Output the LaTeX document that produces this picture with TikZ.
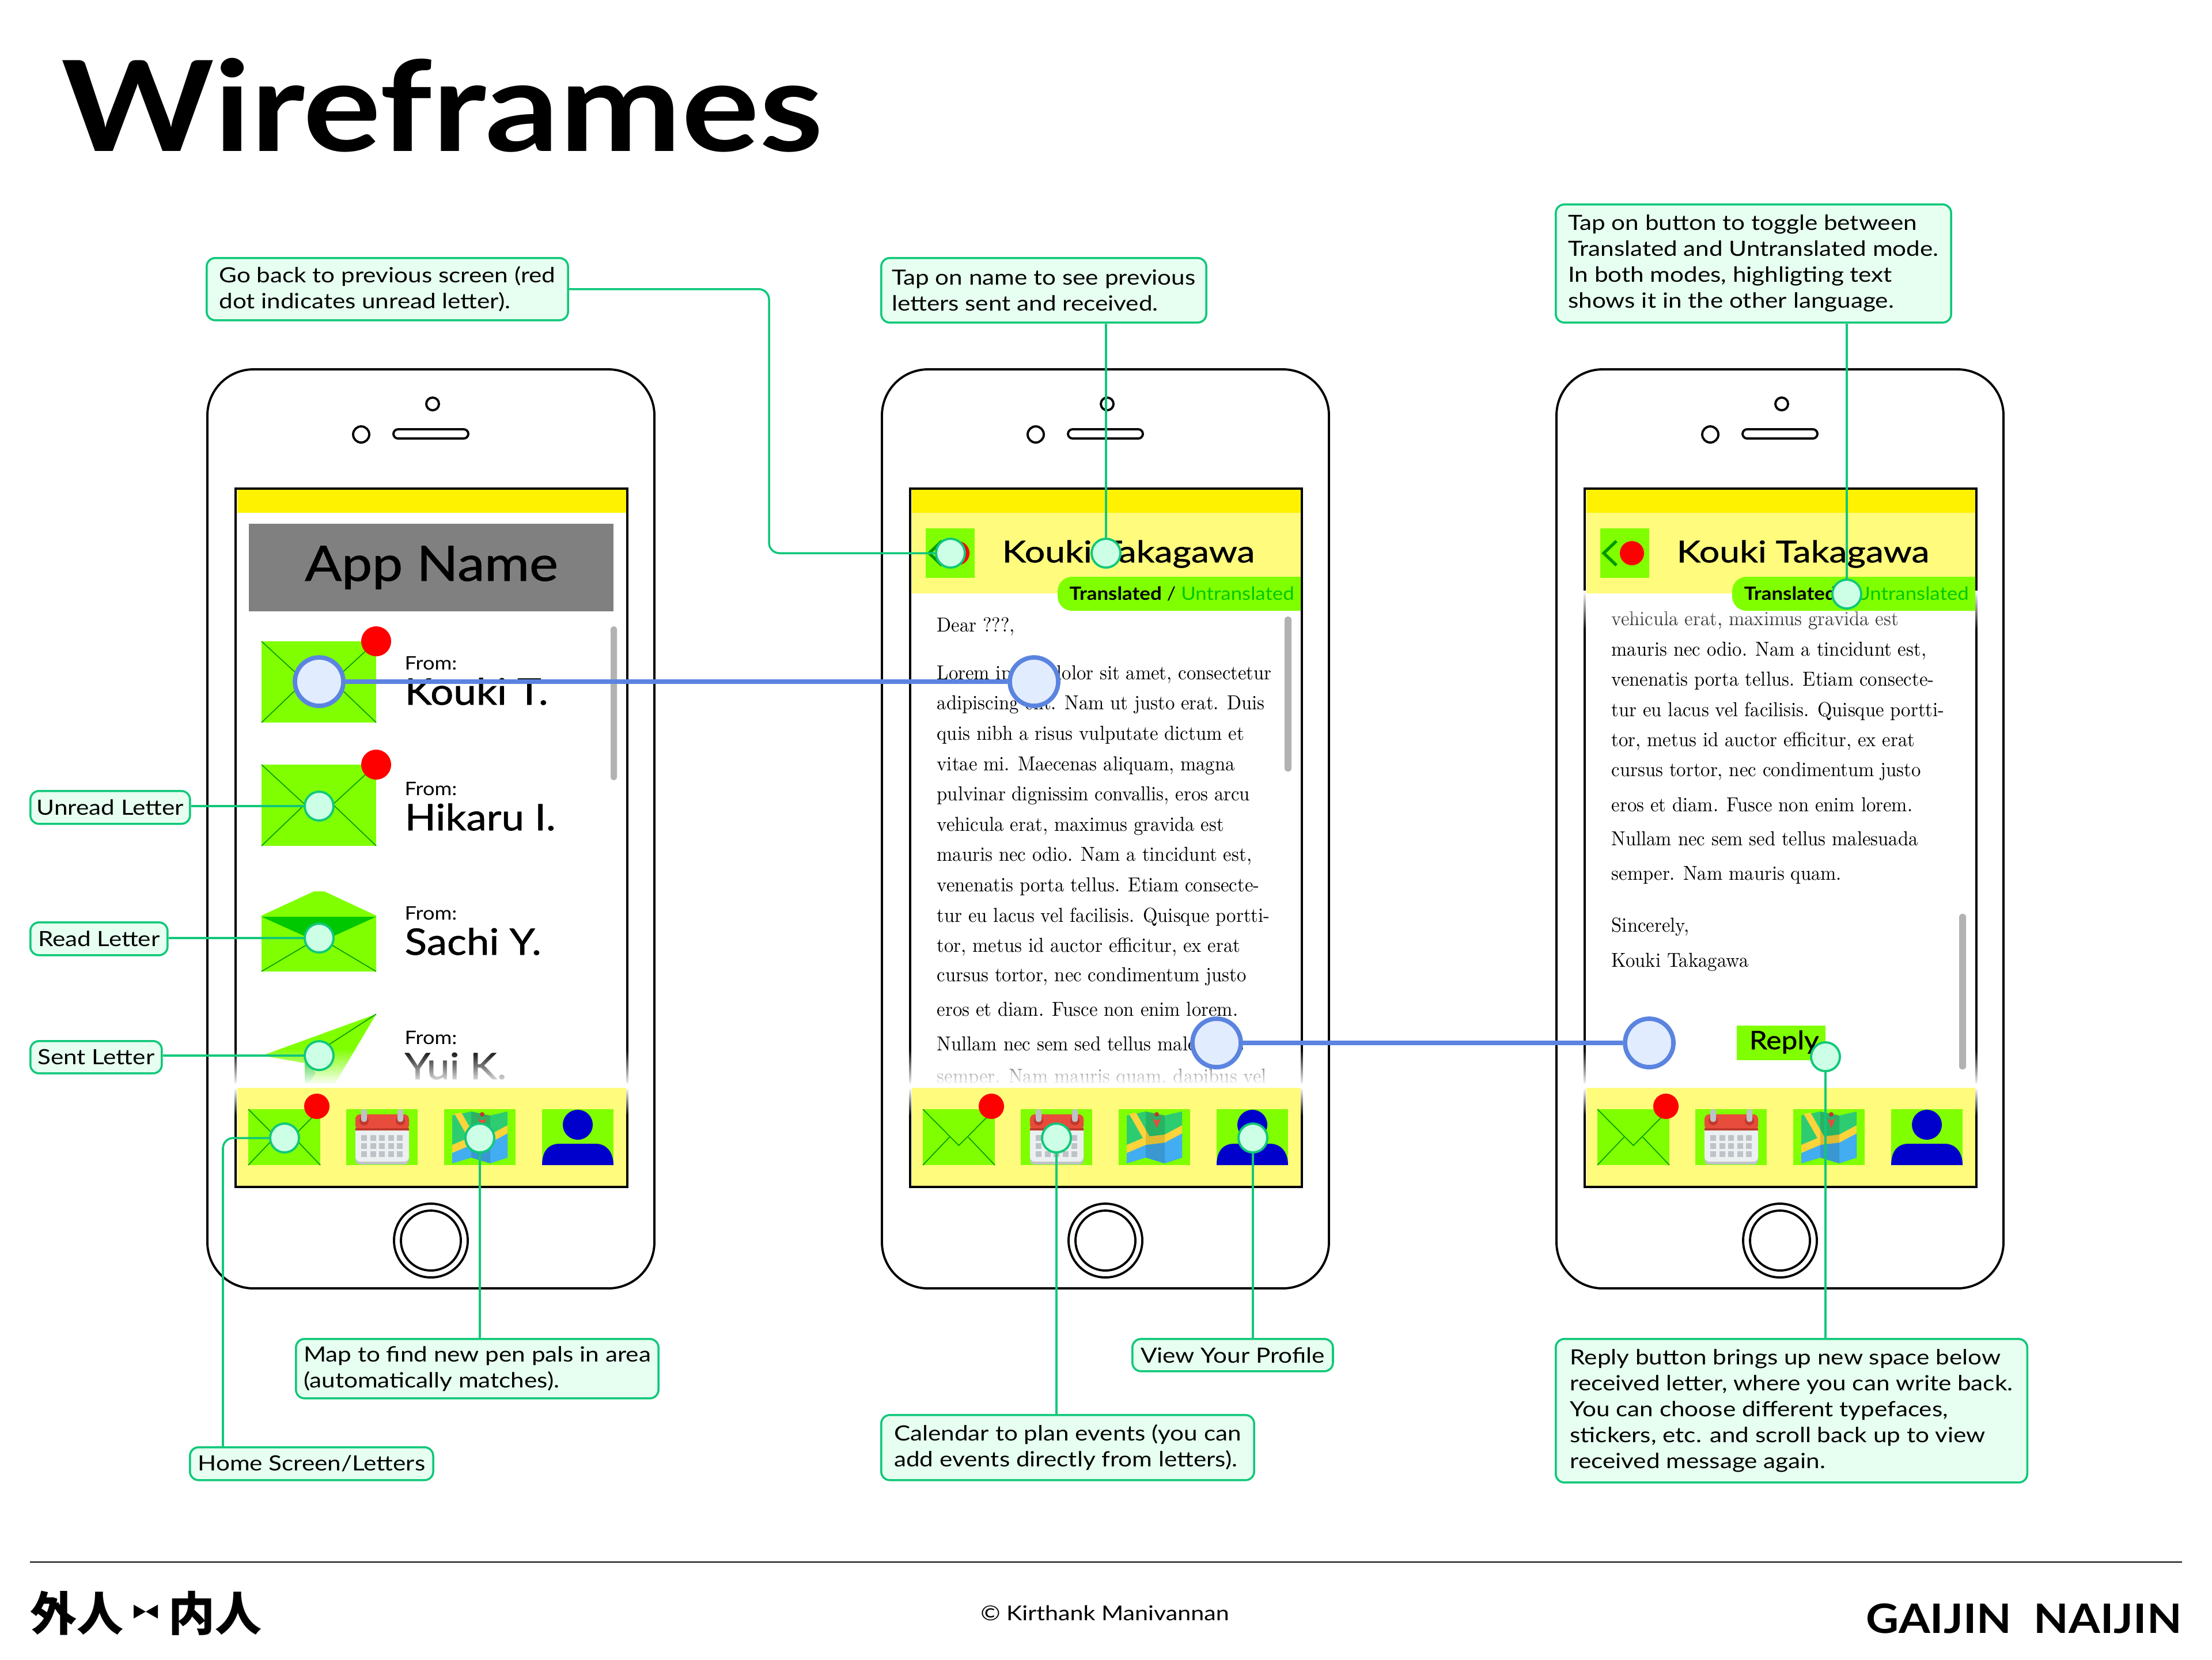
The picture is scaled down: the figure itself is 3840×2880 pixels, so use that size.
\documentclass[tikz,border=0pt]{standalone}
\usepackage{fontspec}
\usetikzlibrary{fadings}
\newfontfamily\wideface[FakeStretch=1.12]{Lato}
\newfontfamily\heavyface[FakeStretch=1.12,FakeBold=1]{Lato}
\newfontfamily\headface[FakeStretch=1.2,FakeBold=1]{Lato}
\newfontfamily\titleface[FakeStretch=1.16]{Lato}
\newfontfamily\noteface[FakeStretch=1.16]{Lato}
\newfontfamily\plainface[FakeStretch=1.1]{Lato}
\newfontfamily\letterface[FakeStretch=0.93]{Latin Modern Roman}
\newfontfamily\cjkface{Noto Sans CJK JP}
\definecolor{lettergreen}{HTML}{80FF00}
\definecolor{foldgreen}{HTML}{009900}
\definecolor{flapgreen}{HTML}{00C800}
\definecolor{statusyellow}{HTML}{FFF200}
\definecolor{barYellow}{HTML}{FFFB7D}
\definecolor{notered}{HTML}{FF0000}
\definecolor{notegreen}{HTML}{10C87A}
\definecolor{notefill}{HTML}{E6FFF0}
\definecolor{spotfill}{HTML}{CCFFE5}
\definecolor{linkblue}{HTML}{5B84E0}
\definecolor{linkfill}{HTML}{E2ECFF}
\definecolor{personblue}{HTML}{0000CC}
\definecolor{iconred}{HTML}{E74C3C}
\definecolor{icondark}{HTML}{C0392B}
\definecolor{icongrey}{HTML}{BDC3C7}
\definecolor{iconwhite}{HTML}{ECF0F1}
\definecolor{mapgreen}{HTML}{2ECC71}
\definecolor{mapblue}{HTML}{42ADF0}
\definecolor{mapyellow}{HTML}{FFD43B}
\tikzstyle{phoneline} = [line width=1.1pt,black]
\tikzstyle{foldline} = [line width=0.45pt,foldgreen]
\tikzstyle{noteline} = [line width=1pt,notegreen]
\tikzstyle{linkline} = [line width=2.2pt,linkblue]
\tikzstyle{hotspot} = [circle,draw=notegreen,fill=spotfill,line width=1.1pt,minimum size=0.5cm,inner sep=0pt]
\tikzstyle{linkspot} = [circle,draw=linkblue,fill=linkfill,line width=2.2pt,minimum size=0.84cm,inner sep=0pt]
\tikzstyle{note} = [draw=notegreen,fill=notefill,line width=1pt,rounded corners=0.15cm,align=left,inner sep=0pt,anchor=north west,font=\noteface\fontsize{10.35}{12.8}\selectfont]
\tikzstyle{bodyline} = [anchor=base west,inner sep=0pt,font=\letterface\fontsize{10}{12}\selectfont]
\tikzstyle{fromline} = [anchor=base west,inner sep=0pt,font=\wideface\fontsize{9.2}{11}\selectfont]
\tikzstyle{nameline} = [anchor=base west,inner sep=0pt,font=\heavyface\fontsize{18}{21}\selectfont]

\newcommand{\envelope}[4]{
\fill[lettergreen] (#1,#2) rectangle ++(#3,#4);
\draw[foldline] (#1,#2) -- ++(0.5*#3,0.65*#4) -- ++(0.5*#3,-0.65*#4);
\draw[foldline] (#1,#2+#4) -- ++(0.37*#3,-0.5*#4);
\draw[foldline] (#1+#3,#2+#4) -- ++(-0.37*#3,-0.5*#4);
}
\newcommand{\calendaricon}[2]{
\begin{scope}[shift={(#1,#2)}]
\fill[lettergreen] (0,0) rectangle (124,97);
\fill[icongrey,rounded corners=0.08cm] (16,60) rectangle (109,96);
\fill[iconwhite,rounded corners=0.08cm] (16,30) rectangle (109,91);
\fill[iconred,rounded corners=0.08cm] (16,9) rectangle (109,36);
\fill[icondark] (16,33) rectangle (109,37);
\foreach \cx in {31,94}
{
\fill[icondark] (\cx,20) circle (8);
\fill[icongrey,rounded corners=0.04cm] (\cx-5,0) rectangle (\cx+5,22);
}
\foreach \i in {0,...,4}
\foreach \j in {0,1,2}
{
\fill[icongrey] (26+15.6*\i,45+14*\j) rectangle ++(10,10);
}
\end{scope}
}
\newcommand{\mapicon}[2]{
\begin{scope}[shift={(#1,#2)}]
\fill[lettergreen] (0,0) rectangle (124,97);
\fill[mapgreen] (14,11) -- (47,4) -- (80,11) -- (110,4) -- (110,84) -- (80,94) -- (47,84) -- (14,94) -- cycle;
\fill[mapblue] (14,76) -- (47,62) -- (80,58) -- (110,42) -- (110,84) -- (80,94) -- (47,84) -- (14,94) -- cycle;
\fill[mapyellow] (14,62) -- (47,48) -- (80,44) -- (110,28) -- (110,42) -- (80,58) -- (47,62) -- (14,76) -- cycle;
\fill[mapyellow] (18,8) -- (30,6) -- (54,48) -- (42,50) -- cycle;
\fill[black,opacity=0.12] (47,4) -- (80,11) -- (80,94) -- (47,84) -- cycle;
\fill[iconred] (56,9) arc (180:0:10) -- (66,33) -- cycle;
\fill[icondark] (66,9) circle (4);
\end{scope}
}
\newcommand{\personicon}[2]{
\begin{scope}[shift={(#1,#2)}]
\fill[lettergreen] (0,0) rectangle (124,97);
\fill[personblue] (62,27) circle (26);
\fill[personblue] (0,97) .. controls (0,72) and (12,60) .. (30,60) -- (93,60) .. controls (112,60) and (124,75) .. (124,97) -- cycle;
\end{scope}
}

\begin{document}
\begin{tikzpicture}[x=0.01cm,y=-0.01cm]
\useasboundingbox (0,0) rectangle (3840,2880);
\fill[white] (0,0) rectangle (3840,2880);

\node[anchor=base west,inner sep=0pt,font=\titleface\bfseries\fontsize{62}{70}\selectfont] (title) at (106,262) {Wireframes};

\foreach \px in {0,1171,2342}
{
\begin{scope}[shift={(\px,0)}]
\draw[phoneline,rounded corners=0.8cm] (360,641) rectangle (1136,2236);
\draw[phoneline] (751,701) circle (11);
\draw[phoneline] (627,754) circle (14);
\draw[phoneline,rounded corners=0.08cm] (683,745) rectangle (813,761);
\draw[phoneline] (748,2153) circle (64);
\draw[phoneline] (748,2153) circle (52);
\draw[line width=1.2pt] (409,848) rectangle (1089,2060);
\fill[statusyellow] (412,850) rectangle (1087,890);
\end{scope}
}

\fill[gray] (432,909) rectangle (1065,1061);
\node[anchor=base,inner sep=0pt,font=\heavyface\fontsize{24}{28}\selectfont] (appname) at (749,1008) {App Name};
\fill[gray!60,rounded corners=0.05cm] (1060,1087) rectangle (1071,1354);

\envelope{454}{1113}{199}{141}
\envelope{454}{1327}{199}{141}
\fill[notered] (653,1113) circle (26);
\fill[notered] (653,1327) circle (26);

\fill[lettergreen] (454,1589) -- (545,1547) -- (563,1547) -- (653,1589) -- (653,1686) -- (454,1686) -- cycle;
\fill[flapgreen] (454,1591) -- (653,1591) -- (554,1636) -- cycle;
\draw[foldline] (454,1686) -- (554,1627) -- (653,1686);

\fill[lettergreen] (653,1760) -- (455,1832) -- (529,1845) -- (529,1890) -- (576,1890) -- cycle;
\fill[flapgreen] (529,1840) -- (529,1890) -- (548,1862) -- cycle;
\draw[foldline] (653,1760) -- (529,1840);

\foreach \ry/\who in {1162/{Kouki T.},1380/{Hikaru I.},1596/{Sachi Y.},1812/{Yui K.}}
{
\node[fromline] (from\ry) at (702,\ry) {From:};
\node[nameline] (who\ry) at (702,\ry+61) {\who};
}

\foreach \ly/\txt in {1096/{Dear ???,},1179/{Lorem ipsum dolor sit amet, consectetur},1231/{adipiscing elit. Nam ut justo erat. Duis},1284/{quis nibh a risus vulputate dictum et},1337/{vitae mi. Maecenas aliquam, magna},1389/{pulvinar dignissim convallis, eros arcu},1442/{vehicula erat, maximus gravida est},1494/{mauris nec odio. Nam a tincidunt est,},1547/{venenatis porta tellus. Etiam consecte-},1600/{tur eu lacus vel facilisis. Quisque portti-},1652/{tor, metus id auctor efficitur, ex erat},1703/{cursus tortor, nec condimentum justo},1763/{eros et diam. Fusce non enim lorem.},1823/{Nullam nec sem sed tellus malesuada},1879/{semper. Nam mauris quam, dapibus vel}}
{
\node[bodyline] (lettera\ly) at (1626,\ly) {\txt};
}
\fill[gray!60,rounded corners=0.05cm] (2230,1070) rectangle (2242,1339);

\foreach \ly/\txt in {1085/{vehicula erat, maximus gravida est},1138/{mauris nec odio. Nam a tincidunt est,},1190/{venenatis porta tellus. Etiam consecte-},1243/{tur eu lacus vel facilisis. Quisque portti-},1295/{tor, metus id auctor efficitur, ex erat},1347/{cursus tortor, nec condimentum justo},1408/{eros et diam. Fusce non enim lorem.},1467/{Nullam nec sem sed tellus malesuada},1527/{semper. Nam mauris quam.},1617/{Sincerely,},1678/{Kouki Takagawa}}
{
\node[bodyline] (letterb\ly) at (2797,\ly) {\txt};
}
\fill[white,path fading=south] (2746,1025) rectangle (3436,1095);

\foreach \px in {1171,2342}
{
\begin{scope}[shift={(\px,0)}]
\fill[barYellow] (412,890) rectangle (1087,1030);
\fill[lettergreen] (436,917) rectangle (521,1003);
\draw[foldgreen,line width=1.5pt] (464,939) -- (442,960) -- (464,981);
\fill[notered] (491,960) circle (21);
\node[anchor=base west,inner sep=0pt,font=\headface\fontsize{14.8}{17}\selectfont] (head\px) at (568,976) {Kouki Takagawa};
\fill[lettergreen] (1087,1001) -- (1087,1060) [rounded corners=0.25cm] -- (665,1060) -- (665,1001) [sharp corners] -- cycle;
\node[anchor=base west,inner sep=0pt,font=\plainface\fontsize{9}{11}\selectfont] (toggle\px) at (685,1041) {\textbf{Translated} / \textcolor{flapgreen}{Untranslated}};
\end{scope}
}

\foreach \px in {0,1171,2342}
{
\begin{scope}[shift={(\px,0)}]
\fill[white,path fading=north] (404,1820) rectangle (1094,1884);
\fill[white] (404,1880) rectangle (1094,1888);
\fill[white,path fading=south] (404,1888) rectangle (1094,1937);
\fill[barYellow] (412,1888) rectangle (1087,2058);
\envelope{431}{1925}{125}{97}
\fill[notered] (550,1920) circle (22);
\calendaricon{601}{1925}
\mapicon{771}{1925}
\personicon{941}{1925}
\end{scope}
}

\fill[gray!60,rounded corners=0.05cm] (3401,1586) rectangle (3413,1856);
\fill[lettergreen] (3015,1780) rectangle (3169,1840);
\node[anchor=base west,inner sep=0pt,font=\heavyface\fontsize{12.6}{15}\selectfont] (replytext) at (3036,1821) {Reply};

\node[note,minimum width=6.27cm,minimum height=1.08cm] (backnote) at (357,446) {Go back to previous screen (red\\dot indicates unread letter).};
\node[note,minimum width=5.64cm,minimum height=1.12cm] (namenote) at (1528,446) {Tap on name to see previous\\letters sent and received.};
\node[note,minimum width=6.86cm,minimum height=2.05cm] (togglenote) at (2699,353) {Tap on button to toggle between\\Translated and Untranslated mode.\\In both modes, highligting text\\shows it in the other language.};
\node[note,minimum width=2.77cm,minimum height=0.57cm] (unreadnote) at (51,1371) {Unread Letter};
\node[note,minimum width=2.38cm,minimum height=0.57cm] (readnote) at (51,1599) {Read Letter};
\node[note,minimum width=2.28cm,minimum height=0.56cm] (sentnote) at (51,1805) {Sent Letter};
\node[note,minimum width=6.29cm,minimum height=1.03cm] (mapnote) at (512,2322) {Map to find new pen pals in area\\(automatically matches).};
\node[note,minimum width=4.22cm,minimum height=0.57cm] (homenote) at (328,2510) {Home Screen/Letters};
\node[note,minimum width=6.47cm,minimum height=1.13cm] (calnote) at (1528,2454) {Calendar to plan events (you can\\add events directly from letters).};
\node[note,minimum width=3.48cm,minimum height=0.56cm] (profilenote) at (1964,2322) {View Your Profile};
\node[note,minimum width=8.18cm,minimum height=2.49cm] (replynote) at (2699,2322) {Reply button brings up new space below\\received letter, where you can write back.\\You can choose different typefaces,\\stickers, etc. and scroll back up to view\\received message again.};

\node[linkspot] (fromspot) at (554,1183) {};
\node[linkspot] (openspot) at (1795,1183) {};
\node[linkspot] (scrollspot) at (2112,1810) {};
\node[linkspot] (endspot) at (2863,1810) {};
\draw[linkline] (fromspot) -- (openspot);
\draw[linkline] (scrollspot) -- (endspot);

\node[hotspot] (unreadspot) at (554,1399) {};
\node[hotspot] (readspot) at (554,1628) {};
\node[hotspot] (sentspot) at (554,1832) {};
\node[hotspot] (homespot) at (494,1975) {};
\node[hotspot] (mapspot) at (833,1975) {};
\node[hotspot] (backspot) at (1650,960) {};
\node[hotspot] (namespot) at (1920,960) {};
\node[hotspot] (calspot) at (1834,1975) {};
\node[hotspot] (profilespot) at (2175,1975) {};
\node[hotspot] (togglespot) at (3206,1031) {};
\node[hotspot] (replyspot) at (3169,1834) {};

\coordinate (backbend) at (1335,960);
\coordinate (homebend) at (387,1975);
\draw[noteline,rounded corners=0.18cm] (backnote.east) -| (backbend) -- (backspot);
\draw[noteline,rounded corners=0.18cm] (homenote.north -| homebend) -- (homebend) -- (homespot);
\draw[noteline] (namenote.south -| namespot) -- (namespot);
\draw[noteline] (togglenote.south -| togglespot) -- (togglespot);
\draw[noteline] (unreadnote.east |- unreadspot) -- (unreadspot);
\draw[noteline] (readnote.east |- readspot) -- (readspot);
\draw[noteline] (sentnote.east |- sentspot) -- (sentspot);
\draw[noteline] (mapnote.north -| mapspot) -- (mapspot);
\draw[noteline] (calnote.north -| calspot) -- (calspot);
\draw[noteline] (profilenote.north -| profilespot) -- (profilespot);
\draw[noteline] (replynote.north -| replyspot) -- (replyspot);

\draw[line width=0.7pt] (52,2711) -- (3788,2711);
\node[anchor=base west,inner sep=0pt,font=\cjkface\bfseries\fontsize{23}{26}\selectfont] (kanjileft) at (52,2830) {外人};
\fill (232,2785) -- (253,2797) -- (274,2785) -- (274,2809) -- (253,2797) -- (232,2809) -- cycle;
\node[anchor=base west,inner sep=0pt,font=\cjkface\bfseries\fontsize{23}{26}\selectfont] (kanjiright) at (292,2830) {内人};
\node[anchor=base,inner sep=0pt,font=\noteface\fontsize{10.1}{12}\selectfont] (credit) at (1918,2812) {© Kirthank Manivannan};
\node[anchor=base east,inner sep=0pt,font=\wideface\bfseries\fontsize{20}{24}\selectfont] (brand) at (3788,2834) {GAIJIN\hspace{0.55em}NAIJIN};
\end{tikzpicture}
\end{document}
